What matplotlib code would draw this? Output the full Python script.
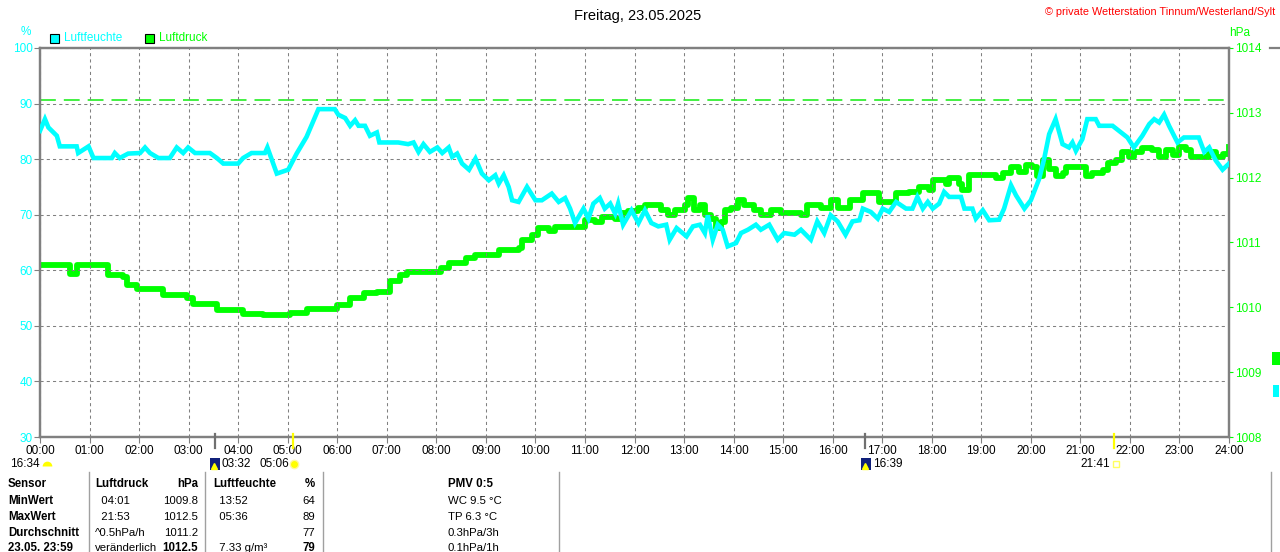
import numpy as np
import matplotlib
matplotlib.use("Agg")
import matplotlib.pyplot as plt
from matplotlib.patches import Rectangle
from matplotlib.lines import Line2D

plt.rcParams['font.family'] = ['Liberation Sans', 'DejaVu Sans']

# ---- data (hours since 00:00) ----
hum_t = [0.00, 0.10, 0.17, 0.34, 0.40, 0.74, 0.77, 0.98, 1.08, 1.45, 1.51, 1.61, 1.78, 2.02,
         2.12, 2.22, 2.39, 2.62, 2.76, 2.89, 2.99, 3.13, 3.43, 3.57, 3.70, 4.00, 4.10, 4.27,
         4.54, 4.59, 4.78, 5.01, 5.18, 5.38, 5.62, 5.95, 6.02, 6.16, 6.26, 6.36, 6.43, 6.56,
         6.66, 6.80, 6.85, 7.23, 7.43, 7.54, 7.64, 7.74, 7.87,
         8.02, 8.12, 8.25, 8.32, 8.42, 8.52, 8.66, 8.79, 8.92, 9.06, 9.19, 9.26, 9.36, 9.46,
         9.53, 9.66, 9.83, 10.00, 10.13, 10.33, 10.47, 10.60, 10.70, 10.80, 10.97, 11.07,
         11.17, 11.30, 11.40, 11.51, 11.61, 11.67, 11.77, 11.94, 12.08, 12.21, 12.34, 12.48,
         12.64, 12.71, 12.85, 13.05, 13.18, 13.32, 13.42, 13.48, 13.58, 13.68, 13.78, 13.88,
         14.05, 14.15, 14.29, 14.45, 14.55, 14.72, 14.89, 15.02, 15.23, 15.36, 15.56, 15.69,
         15.83, 15.96, 16.10, 16.26,
         16.40, 16.54, 16.61, 16.77, 16.91, 17.01, 17.14, 17.28, 17.48, 17.61, 17.71, 17.82,
         17.92, 18.02, 18.15, 18.25, 18.35, 18.59, 18.66, 18.82, 18.89, 19.03, 19.16, 19.36,
         19.46, 19.60, 19.70, 19.87, 20.00, 20.17, 20.27, 20.37, 20.50, 20.64, 20.77, 20.84,
         20.91, 21.04, 21.14, 21.31, 21.38, 21.65, 21.78, 21.95, 22.08, 22.25, 22.39, 22.49,
         22.59, 22.69, 22.79, 22.96, 23.09, 23.39, 23.50, 23.60, 23.73, 23.87, 24.00]
hum_v = [85.1, 87.2, 85.7, 84.2, 82.3, 82.3, 81.1, 82.3, 80.2, 80.2, 81.1, 80.2, 81.0, 81.1,
         82.1, 81.1, 80.2, 80.2, 82.1, 81.1, 82.1, 81.1, 81.1, 80.2, 79.2, 79.2, 80.2, 81.1,
         81.1, 82.1, 77.4, 78.1, 81.0, 84.0, 89.0, 89.0, 88.0, 87.4, 86.0, 87.0, 86.0, 86.0,
         84.2, 84.8, 83.0, 83.0, 82.7, 83.0, 81.3, 82.7, 81.3,
         82.1, 81.1, 82.1, 80.4, 81.0, 79.2, 78.1, 80.1, 77.4, 76.2, 77.1, 75.6, 77.1, 75.0,
         72.6, 72.3, 75.0, 72.6, 72.6, 73.8, 72.3, 73.0, 71.1, 68.5, 71.1, 69.3,
         72.0, 73.0, 71.1, 72.0, 70.2, 72.0, 68.2, 70.8, 68.5, 70.8, 68.5, 67.9,
         68.2, 65.5, 67.6, 66.1, 67.9, 68.2, 66.7, 69.9, 65.5, 68.2, 67.3, 64.3,
         64.9, 66.7, 67.3, 68.2, 67.3, 68.2, 65.5, 66.7, 66.4, 67.3, 65.5, 68.8,
         66.7, 69.9, 68.8, 66.4,
         68.8, 69.0, 71.1, 70.5, 69.3, 71.1, 70.5, 72.3, 71.1, 71.1, 73.2, 71.1,
         72.3, 71.1, 72.0, 74.1, 73.2, 73.2, 71.1, 71.1, 69.3, 70.8, 69.0, 69.1,
         71.1, 75.3, 73.5, 71.1, 72.6, 76.5, 80.1, 84.5, 87.2, 82.7, 82.1, 83.0,
         81.5, 83.6, 87.2, 87.2, 86.0, 86.0, 85.1, 83.9, 82.1, 84.2, 86.3, 87.2,
         86.6, 88.0, 86.0, 83.0, 83.9, 83.9, 81.3, 82.1, 79.8, 78.1, 79.2]

pres_t = [0.00, 0.20, 0.47, 0.61, 0.74, 1.28, 1.38, 1.68, 1.75, 1.95, 2.36, 2.49, 2.83, 2.96,
          3.09, 3.43, 3.57, 3.97, 4.10, 4.51, 4.91, 5.05, 5.31, 5.38, 5.85, 5.99, 6.26, 6.53,
          6.80, 7.07, 7.27, 7.40, 7.87, 8.10,
          8.25, 8.52, 8.59, 8.79, 9.19, 9.26, 9.53, 9.66, 9.73, 9.93, 10.06, 10.27, 10.40,
          10.94, 11.00, 11.20, 11.34, 11.61, 11.74, 11.87, 12.08, 12.21, 12.54, 12.68, 12.81,
          13.01, 13.08, 13.21, 13.32, 13.42, 13.55, 13.65, 13.75, 13.82, 13.95, 14.09, 14.22,
          14.42, 14.55, 14.76, 14.96, 15.16, 15.36, 15.49, 15.76, 15.96, 16.10,
          16.34, 16.61, 16.91, 16.94, 17.28, 17.55, 17.75, 17.95, 18.02, 18.29, 18.35, 18.55,
          18.62, 18.76, 19.16, 19.29, 19.43, 19.60, 19.76, 19.90, 20.03, 20.13, 20.24, 20.37,
          20.50, 20.64, 20.71, 20.97, 21.11, 21.24, 21.45, 21.55, 21.71, 21.85, 21.98, 22.08,
          22.25, 22.45, 22.59, 22.72, 22.86, 22.99, 23.13, 23.23, 23.46, 23.60, 23.73, 23.87,
          24.00]
pres_v = [1010.65, 1010.65, 1010.65, 1010.52, 1010.65, 1010.65, 1010.50, 1010.47, 1010.34,
          1010.29, 1010.29, 1010.19, 1010.19, 1010.14, 1010.05, 1010.05, 1009.96, 1009.96,
          1009.89, 1009.88, 1009.88, 1009.91, 1009.91, 1009.98, 1009.98, 1010.04, 1010.14,
          1010.22, 1010.24, 1010.40, 1010.50, 1010.55, 1010.55, 1010.60,
          1010.68, 1010.68, 1010.76, 1010.81, 1010.81, 1010.88, 1010.88, 1010.91, 1011.04,
          1011.12, 1011.22, 1011.17, 1011.24, 1011.24, 1011.35, 1011.32, 1011.40, 1011.37,
          1011.45, 1011.48, 1011.53, 1011.58, 1011.50, 1011.42, 1011.50, 1011.58, 1011.68,
          1011.50, 1011.58, 1011.42, 1011.37, 1011.22, 1011.32, 1011.50, 1011.53, 1011.66,
          1011.58, 1011.50, 1011.42, 1011.50, 1011.45, 1011.45, 1011.42, 1011.58, 1011.53,
          1011.66, 1011.53,
          1011.66, 1011.76, 1011.76, 1011.63, 1011.76, 1011.78, 1011.86, 1011.81, 1011.96,
          1011.91, 1011.99, 1011.91, 1011.81, 1012.04, 1012.04, 1011.99, 1012.07, 1012.17,
          1012.09, 1012.20, 1012.17, 1012.02, 1012.27, 1012.14, 1012.02, 1012.07, 1012.17,
          1012.17, 1012.02, 1012.07, 1012.12, 1012.22, 1012.27, 1012.40, 1012.32, 1012.40,
          1012.45, 1012.43, 1012.32, 1012.43, 1012.35, 1012.48, 1012.43, 1012.32, 1012.32,
          1012.40, 1012.32, 1012.37, 1012.48]

pres_ref = 1013.2          # dashed green line
hours = list(range(0, 25))
hour_labels = [f"{h:02d}:00" for h in hours]
hum_ticks = [30, 40, 50, 60, 70, 80, 90, 100]
pres_ticks = [1008, 1009, 1010, 1011, 1012, 1013, 1014]

# sun / moon events
event_times = [3 + 32 / 60, 5 + 6 / 60, 16 + 39 / 60, 21 + 41 / 60]
event_colors = ['#707070', '#ffff00', '#707070', '#ffff00']

table_rows = [
    ["Sensor", "Luftdruck", "hPa", "Luftfeuchte", "%", "PMV 0:5"],
    ["MinWert", "  04:01", "1009.8", "  13:52", "64", "WC 9.5 °C"],
    ["MaxWert", "  21:53", "1012.5", "  05:36", "89", "TP 6.3 °C"],
    ["Durchschnitt", "^0.5hPa/h", "1011.2", "", "77", "0.3hPa/3h"],
    ["23.05. 23:59", "veränderlich", "1012.5", "  7.33 g/m³", "79", "0.1hPa/1h"],
]

W, H = 1280, 552
CYAN = '#00ffff'
GREEN = '#00ff00'
GREY = '#808080'
FS = 8.5


def fx(x):
    return x / W


def fy(y):
    return 1 - y / H


fig = plt.figure(figsize=(12.8, 5.52), dpi=100)
ax = fig.add_axes([fx(40), fy(437), (1229 - 40) / W, (437 - 48) / H])
ax2 = ax.twinx()

ax.set_xlim(0, 24)
ax.set_ylim(30, 100)
ax2.set_ylim(1008, 1014)

ax.grid(True, color=GREY, linestyle=(0, (3, 3)), linewidth=0.75)
ax.set_axisbelow(True)
ax2.axhline(pres_ref, color='#22ee22', linewidth=1.2, dashes=(9.5, 4.8))

ax.plot(hum_t, hum_v, color=CYAN, linewidth=3.3, solid_joinstyle='miter', zorder=3)
ax.set_zorder(ax2.get_zorder() + 1)
ax.patch.set_visible(False)
ax2.plot(pres_t, pres_v, color=GREEN, linewidth=4.2, drawstyle='steps-post')

ax.set_xticks(hours)
ax.set_xticklabels(hour_labels)
ax.set_yticks(hum_ticks)
ax2.set_yticks(pres_ticks)
ax.tick_params(axis='x', colors=GREY, labelcolor='black', length=4, pad=2, labelsize=FS)
ax.tick_params(axis='y', colors=GREY, labelcolor=CYAN, length=4, pad=1, labelsize=FS)
ax2.tick_params(axis='y', colors=GREEN, labelcolor=GREEN, length=3, pad=1.5, labelsize=FS)

for a in (ax, ax2):
    for s in a.spines.values():
        s.set_color(GREY)
        s.set_linewidth(1.6)

# event ticks on the time axis
for t, c in zip(event_times, event_colors):
    ax.plot([t, t], [0.008, -0.027], color=c, linewidth=1.6,
            transform=ax.get_xaxis_transform(), clip_on=False, zorder=5)

# title and header texts
fig.text(fx(638), fy(16), "Freitag, 23.05.2025", ha='center', va='center', fontsize=10.5)
fig.text(fx(1275), fy(12), "© private Wetterstation Tinnum/Westerland/Sylt",
         ha='right', va='center', fontsize=7.8, color='#ff0000')
fig.text(fx(26), fy(32), "%", ha='center', va='center', fontsize=FS, color=CYAN)
fig.text(fx(1240), fy(33), "hPa", ha='center', va='center', fontsize=FS, color=GREEN)

# legend
for x0, col, lab in [(50, CYAN, "Luftfeuchte"), (145, GREEN, "Luftdruck")]:
    fig.patches.append(Rectangle((fx(x0), fy(43)), 9 / W, 9 / H, facecolor=col,
                                 edgecolor='black', linewidth=0.8, transform=fig.transFigure))
    fig.text(fx(x0 + 14), fy(38), lab, ha='left', va='center', fontsize=FS, color=col)

# sun / moon labels below the axis
fig.text(fx(10), fy(464), "16:34", ha='left', va='center', fontsize=FS)
fig.add_artist(Line2D([fx(47)], [fy(466)], marker='o', markersize=7, fillstyle='top',
                      markerfacecolor='#ffff00', markerfacecoloralt='none',
                      markeredgewidth=0, transform=fig.transFigure))
for x0, lab in [(210, "03:32"), (861, "16:39")]:
    fig.patches.append(Rectangle((fx(x0), fy(470)), 10 / W, 12 / H, facecolor='#10207a',
                                 edgecolor='none', transform=fig.transFigure))
    fig.add_artist(Line2D([fx(x0 + 4)], [fy(466)], marker='^', markersize=4,
                          color='#ffff00', linestyle='none', transform=fig.transFigure))
    fig.text(fx(x0 + 12), fy(464), lab, ha='left', va='center', fontsize=FS)
fig.text(fx(259), fy(464), "05:06", ha='left', va='center', fontsize=FS)
fig.add_artist(Line2D([fx(294)], [fy(464)], marker='o', markersize=6, color='#ffff00',
                      markeredgecolor='#fff7a0', linestyle='none', transform=fig.transFigure))
fig.text(fx(1080), fy(464), "21:41", ha='left', va='center', fontsize=FS)
fig.add_artist(Line2D([fx(1116)], [fy(464)], marker='s', markersize=4.5, markerfacecolor='none',
                      markeredgecolor='#ffff60', linestyle='none', transform=fig.transFigure))

# table at the bottom
row_y = [484, 501, 517, 533, 548]
for xv in [89, 205, 323, 559, 1271]:
    fig.add_artist(Line2D([fx(xv), fx(xv)], [fy(472), 0], color='#a0a0a0', linewidth=1,
                          transform=fig.transFigure))
col_x = [8, 95, 198, 213, 315, 448]
col_ha = ['left', 'left', 'right', 'left', 'right', 'left']
for r, (y, row) in enumerate(zip(row_y, table_rows)):
    for c, txt in enumerate(row):
        bold = c == 0 or r == 0 or (r == 4 and c in (2, 4))
        fig.text(fx(col_x[c]), fy(y), txt, ha=col_ha[c], va='center',
                 fontsize=8.3 if bold else 8.2, fontweight='bold' if bold else 'normal')

# marks at the far right edge
fig.add_artist(Line2D([fx(1270), 1], [fy(48), fy(48)], color=GREY, linewidth=1.6,
                      transform=fig.transFigure))
fig.patches.append(Rectangle((fx(1272), fy(365)), 8 / W, 13 / H, facecolor=GREEN,
                             edgecolor='none', transform=fig.transFigure))
fig.patches.append(Rectangle((fx(1273), fy(397)), 6 / W, 12 / H, facecolor=CYAN,
                             edgecolor='none', transform=fig.transFigure))

fig.savefig("out.png", dpi=100)
